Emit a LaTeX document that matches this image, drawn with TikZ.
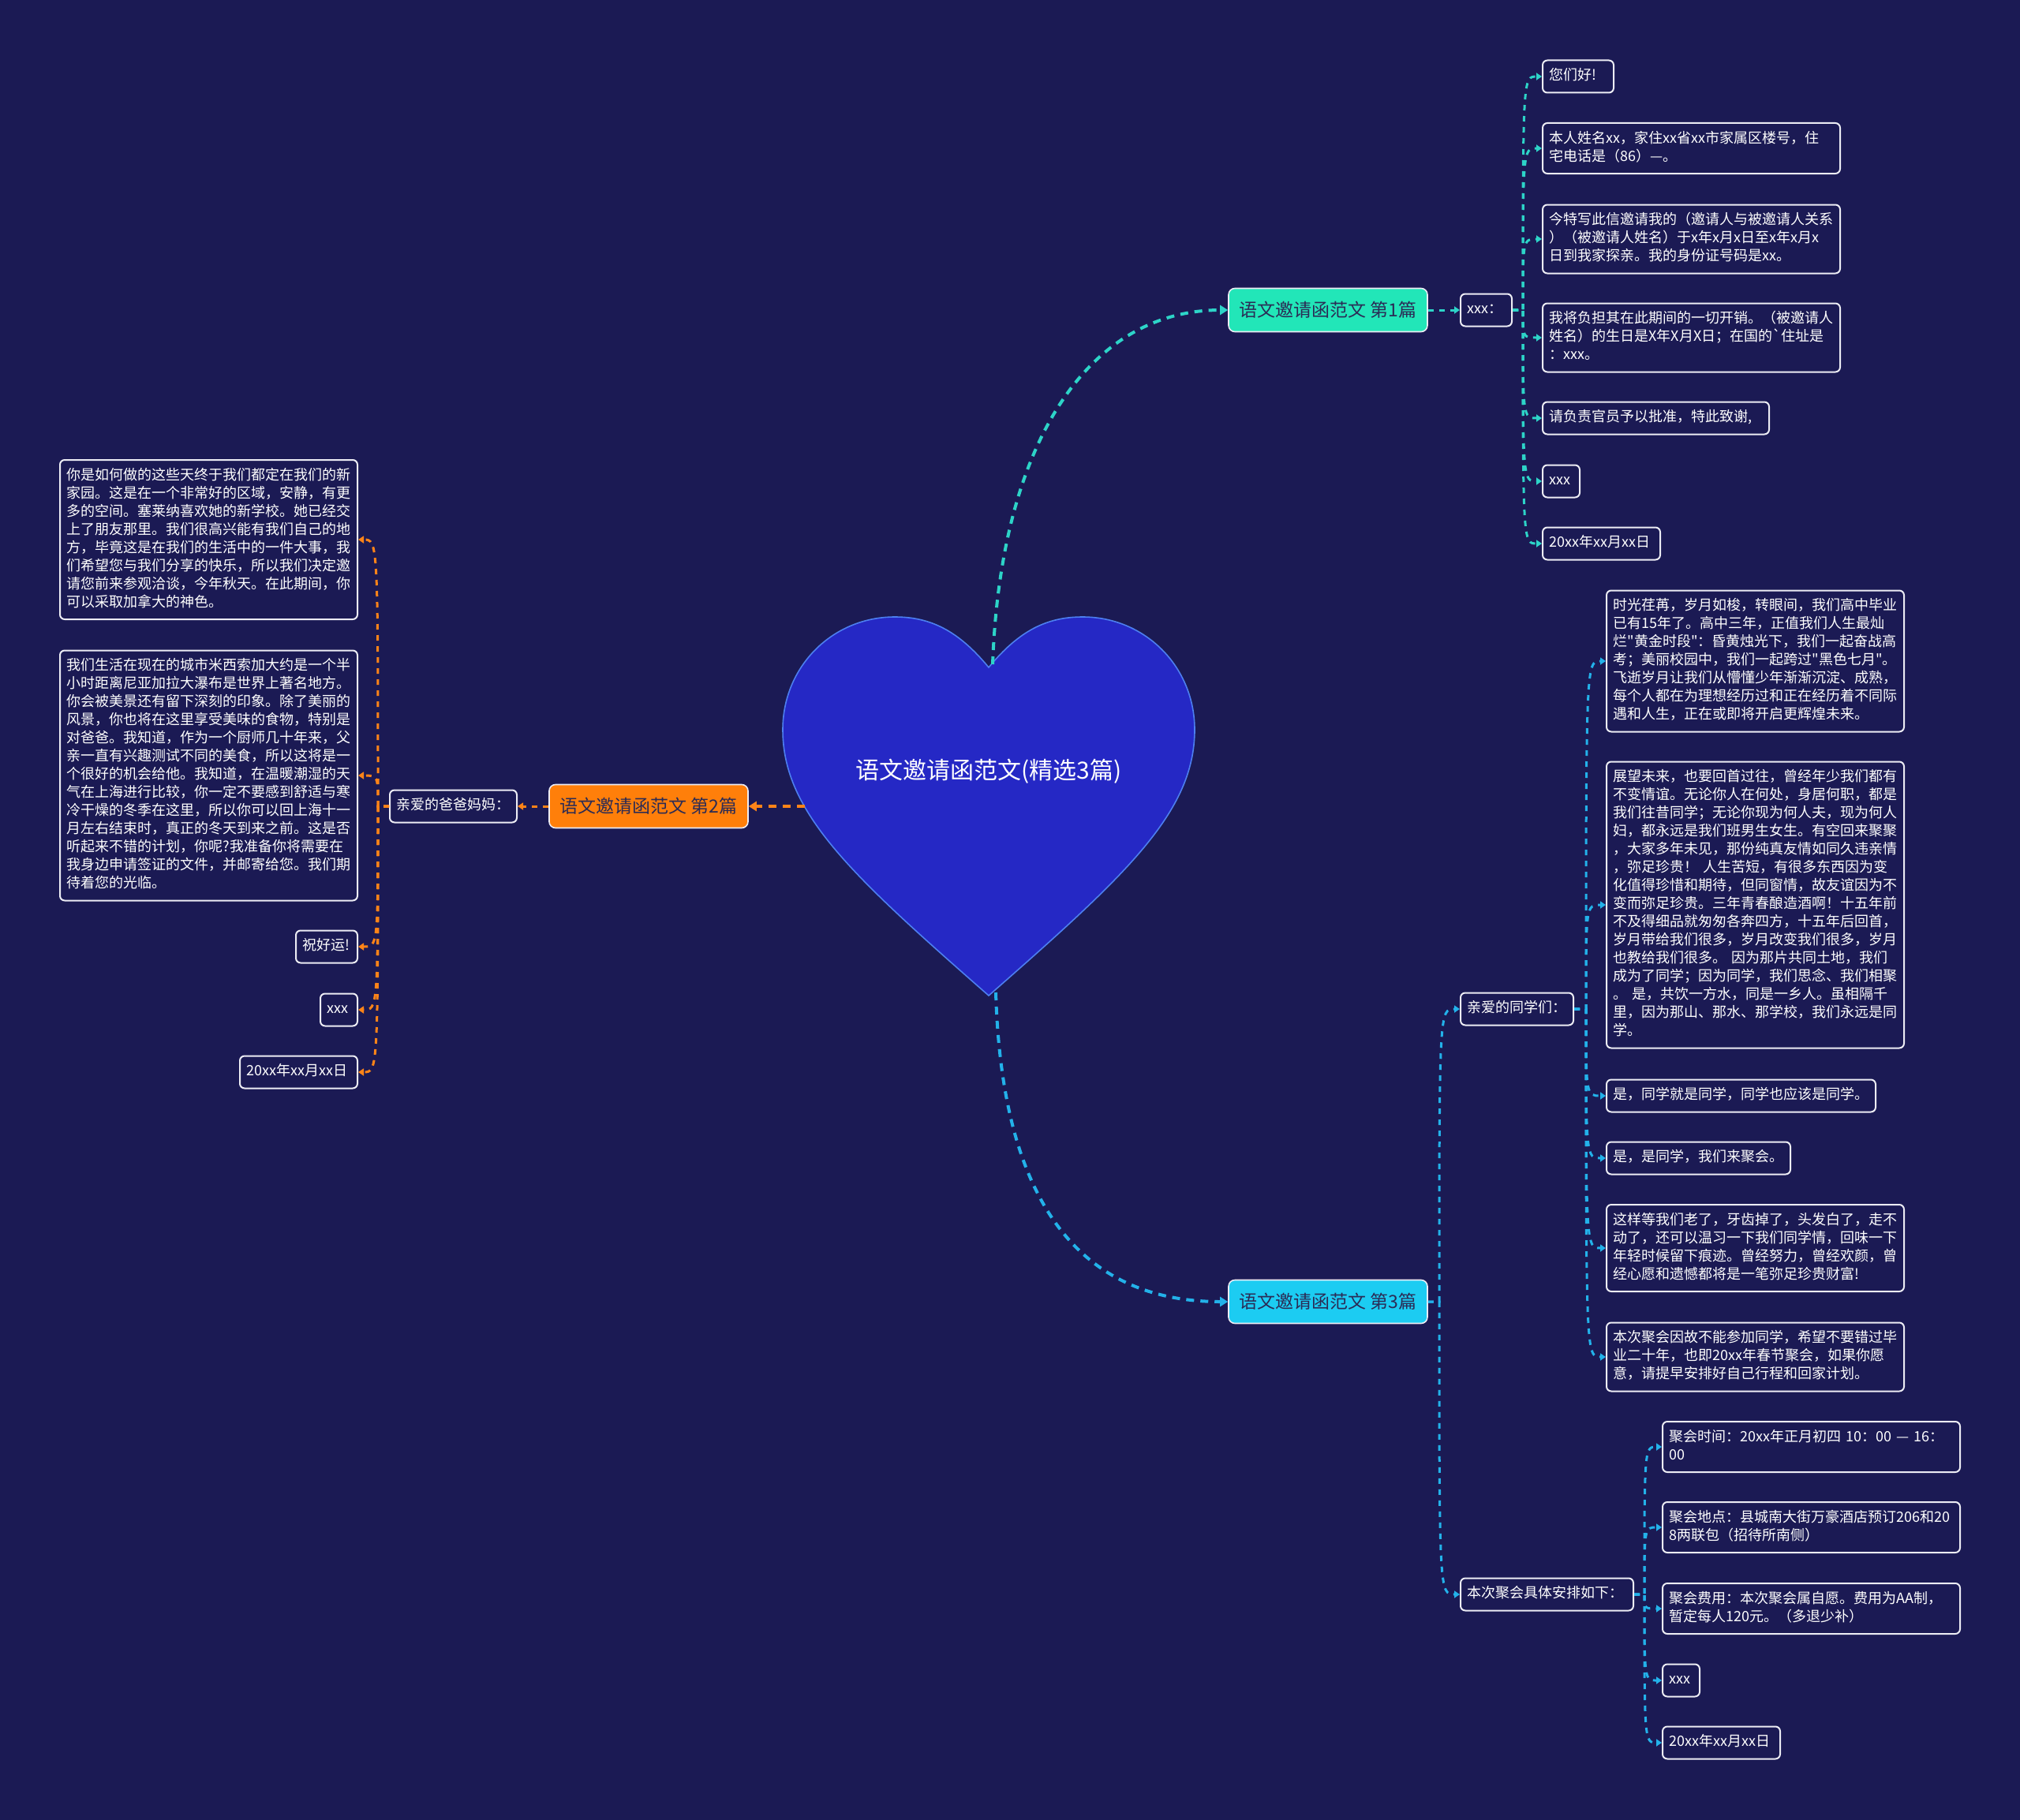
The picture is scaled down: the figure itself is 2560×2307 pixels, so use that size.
\documentclass[tikz,border=0pt]{standalone}
\usepackage{fontspec}
\newfontfamily\cjk{Noto Sans CJK SC}
\usetikzlibrary{arrows.meta}
\definecolor{bgcol}{HTML}{1B1A54}
\definecolor{heartfill}{HTML}{2528C5}
\definecolor{heartline}{HTML}{4D7FF0}
\definecolor{tealfill}{HTML}{22E6B8}
\definecolor{teallink}{HTML}{2DD4C8}
\definecolor{cyanfill}{HTML}{1CCCF2}
\definecolor{cyanlink}{HTML}{23B2EA}
\definecolor{orangefill}{HTML}{FF7F0A}
\definecolor{orangelink}{HTML}{FF8418}
\definecolor{darktext}{HTML}{2B2B55}
\definecolor{boxline}{HTML}{ECECF4}
\begin{document}
\begin{tikzpicture}[x=0.5pt,y=-0.5pt,
  leaf/.style={draw=boxline, line width=1pt, fill=bgcol, rounded corners=3pt,
    text=white, font=\cjk\fontsize{9}{11.5}\selectfont, align=left,
    inner xsep=4.25pt, inner ysep=4.5pt,
    execute at begin node=\strut, execute at end node=\strut},
  branch/.style={draw=boxline, line width=0.8pt, rounded corners=4pt,
    text=darktext, font=\cjk\fontsize{11.5}{14}\selectfont,
    minimum width=126pt, minimum height=27.5pt, inner sep=0pt},
  link/.style={line width=1.5pt, dash pattern=on 3.5pt off 3.5pt,
    -{Triangle[length=3.5pt,width=4.5pt]}},
  mainlink/.style={line width=2pt, dash pattern=on 5pt off 4pt,
    -{Triangle[length=5pt,width=6pt]}},
]
\useasboundingbox (0,0) rectangle (2560,2307);
\fill[bgcol] (0,0) rectangle (2560,2307);

% heart
\path[fill=heartfill, draw=heartline, line width=0.8pt]
  (1253,846) .. controls (1215,800) and (1180,782) .. (1134,782)
  .. controls (1055,782) and (992,845) .. (992,925)
  .. controls (992,1030) and (1080,1110) .. (1253,1262)
  .. controls (1426,1110) and (1514,1030) .. (1514,925)
  .. controls (1514,845) and (1451,782) .. (1372,782)
  .. controls (1326,782) and (1291,800) .. (1253,846) -- cycle;
\node[font=\cjk\fontsize{15}{18}\selectfont, text=white] (root) at (1253,978) {语文邀请函范文(精选3篇)};
\coordinate (h1) at (1258,842);
\coordinate (h3) at (1262,1258);
\coordinate (h2) at (1020,1022);

% branches
\node[branch, fill=tealfill] (b1) at (1683,393) {语文邀请函范文 第1篇};
\node[branch, fill=orangefill] (b2) at (822,1022) {语文邀请函范文 第2篇};
\node[branch, fill=cyanfill] (b3) at (1683,1650) {语文邀请函范文 第3篇};

\draw[mainlink, teallink] (h1) .. controls (1268,560) and (1380,393) .. (b1.west);
\draw[mainlink, cyanlink] (h3) .. controls (1270,1540) and (1380,1650) .. (b3.west);
\draw[mainlink, orangelink] (h2) -- (b2.east);

% branch 1
\node[leaf, text width=24pt, anchor=west] (x1) at (1850,393) {xxx：};
\draw[link, teallink] (b1.east) -- (x1.west);
\coordinate (s1) at (1930,393);
\node[leaf, text width=36.5pt, anchor=west] (c1) at (1954,97) {您们好!};
\node[leaf, text width=180pt, anchor=west] (c2) at (1954,188) {本人姓名xx，家住xx省xx市家属区楼号，住\\宅电话是（86）—。};
\node[leaf, text width=180pt, anchor=west] (c3) at (1954,303) {今特写此信邀请我的（邀请人与被邀请人关系\\）（被邀请人姓名）于x年x月x日至x年x月x\\日到我家探亲。我的身份证号码是xx。};
\node[leaf, text width=180pt, anchor=west] (c4) at (1954,428) {我将负担其在此期间的一切开销。（被邀请人\\姓名）的生日是X年X月X日；在国的`住址是\\：xxx。};
\node[leaf, text width=135pt, anchor=west] (c5) at (1954,530) {请负责官员予以批准，特此致谢,};
\node[leaf, text width=15pt, anchor=west] (c6) at (1954,610) {xxx};
\node[leaf, text width=66pt, anchor=west] (c7) at (1954,689) {20xx年xx月xx日};
\foreach \c in {c1,c2,c3,c4,c5,c6,c7}
  \draw[link, teallink] (x1.east) -- (s1) .. controls (s1 |- \c.west) .. (\c.west);

% branch 2
\node[leaf, text width=72pt, anchor=east] (p2) at (656,1022) {亲爱的爸爸妈妈：};
\draw[link, orangelink] (b2.west) -- (p2.east);
\coordinate (s2) at (479,1022);
\node[leaf, text width=180pt, anchor=east] (l1) at (454,684) {你是如何做的这些天终于我们都定在我们的新\\家园。这是在一个非常好的区域，安静，有更\\多的空间。塞莱纳喜欢她的新学校。她已经交\\上了朋友那里。我们很高兴能有我们自己的地\\方，毕竟这是在我们的生活中的一件大事，我\\们希望您与我们分享的快乐，所以我们决定邀\\请您前来参观洽谈，今年秋天。在此期间，你\\可以采取加拿大的神色。};
\node[leaf, text width=180pt, anchor=east] (l2) at (454,983) {我们生活在现在的城市米西索加大约是一个半\\小时距离尼亚加拉大瀑布是世界上著名地方。\\你会被美景还有留下深刻的印象。除了美丽的\\风景，你也将在这里享受美味的食物，特别是\\对爸爸。我知道，作为一个厨师几十年来，父\\亲一直有兴趣测试不同的美食，所以这将是一\\个很好的机会给他。我知道，在温暖潮湿的天\\气在上海进行比较，你一定不要感到舒适与寒\\冷干燥的冬季在这里，所以你可以回上海十一\\月左右结束时，真正的冬天到来之前。这是否\\听起来不错的计划，你呢?我准备你将需要在\\我身边申请签证的文件，并邮寄给您。我们期\\待着您的光临。};
\node[leaf, text width=30.5pt, anchor=east] (l3) at (454,1200) {祝好运!};
\node[leaf, text width=15pt, anchor=east] (l4) at (454,1280) {xxx};
\node[leaf, text width=66pt, anchor=east] (l5) at (454,1359) {20xx年xx月xx日};
\foreach \c in {l1,l2,l3,l4,l5}
  \draw[link, orangelink] (p2.west) -- (s2) .. controls (s2 |- \c.east) .. (\c.east);

% branch 3
\node[leaf, text width=63pt, anchor=west] (g) at (1850,1279) {亲爱的同学们：};
\node[leaf, text width=101pt, anchor=west] (h) at (1850,2021) {本次聚会具体安排如下：};
\coordinate (s3) at (1824,1650);
\draw[link, cyanlink] (b3.east) -- (s3) .. controls (s3 |- g.west) .. (g.west);
\draw[link, cyanlink] (b3.east) -- (s3) .. controls (s3 |- h.west) .. (h.west);

\coordinate (s3a) at (2010,1279);
\node[leaf, text width=180pt, anchor=west] (g1) at (2035,838) {时光荏苒，岁月如梭，转眼间，我们高中毕业\\已有15年了。高中三年，正值我们人生最灿\\烂"黄金时段"：昏黄烛光下，我们一起奋战高\\考；美丽校园中，我们一起跨过"黑色七月"。\\飞逝岁月让我们从懵懂少年渐渐沉淀、成熟，\\每个人都在为理想经历过和正在经历着不同际\\遇和人生，正在或即将开启更辉煌未来。};
\node[leaf, text width=180pt, anchor=west] (g2) at (2035,1147) {展望未来，也要回首过往，曾经年少我们都有\\不变情谊。无论你人在何处，身居何职，都是\\我们往昔同学；无论你现为何人夫，现为何人\\妇，都永远是我们班男生女生。有空回来聚聚\\，大家多年未见，那份纯真友情如同久违亲情\\，弥足珍贵！ 人生苦短，有很多东西因为变\\化值得珍惜和期待，但同窗情，故友谊因为不\\变而弥足珍贵。三年青春酿造酒啊！十五年前\\不及得细品就匆匆各奔四方，十五年后回首，\\岁月带给我们很多，岁月改变我们很多，岁月\\也教给我们很多。 因为那片共同土地，我们\\成为了同学；因为同学，我们思念、我们相聚\\。 是，共饮一方水，同是一乡人。虽相隔千\\里，因为那山、那水、那学校，我们永远是同\\学。};
\node[leaf, text width=162pt, anchor=west] (g3) at (2035,1389) {是，同学就是同学，同学也应该是同学。};
\node[leaf, text width=108pt, anchor=west] (g4) at (2035,1468) {是，是同学，我们来聚会。};
\node[leaf, text width=180pt, anchor=west] (g5) at (2035,1582) {这样等我们老了，牙齿掉了，头发白了，走不\\动了，还可以温习一下我们同学情，回味一下\\年轻时候留下痕迹。曾经努力，曾经欢颜，曾\\经心愿和遗憾都将是一笔弥足珍贵财富!};
\node[leaf, text width=180pt, anchor=west] (g6) at (2035,1720) {本次聚会因故不能参加同学，希望不要错过毕\\业二十年，也即20xx年春节聚会，如果你愿\\意，请提早安排好自己行程和回家计划。};
\foreach \c in {g1,g2,g3,g4,g5,g6}
  \draw[link, cyanlink] (g.east) -- (s3a) .. controls (s3a |- \c.west) .. (\c.west);

\coordinate (s3b) at (2084,2021);
\node[leaf, text width=180pt, anchor=west] (k1) at (2106,1834) {聚会时间：20xx年正月初四 10：00 — 16：\\00};
\node[leaf, text width=180pt, anchor=west] (k2) at (2106,1936) {聚会地点：县城南大街万豪酒店预订206和20\\8两联包（招待所南侧）};
\node[leaf, text width=180pt, anchor=west] (k3) at (2106,2039) {聚会费用：本次聚会属自愿。费用为AA制，\\暂定每人120元。（多退少补）};
\node[leaf, text width=15pt, anchor=west] (k4) at (2106,2130) {xxx};
\node[leaf, text width=66pt, anchor=west] (k5) at (2106,2209) {20xx年xx月xx日};
\foreach \c in {k1,k2,k3,k4,k5}
  \draw[link, cyanlink] (h.east) -- (s3b) .. controls (s3b |- \c.west) .. (\c.west);
\end{tikzpicture}
\end{document}
